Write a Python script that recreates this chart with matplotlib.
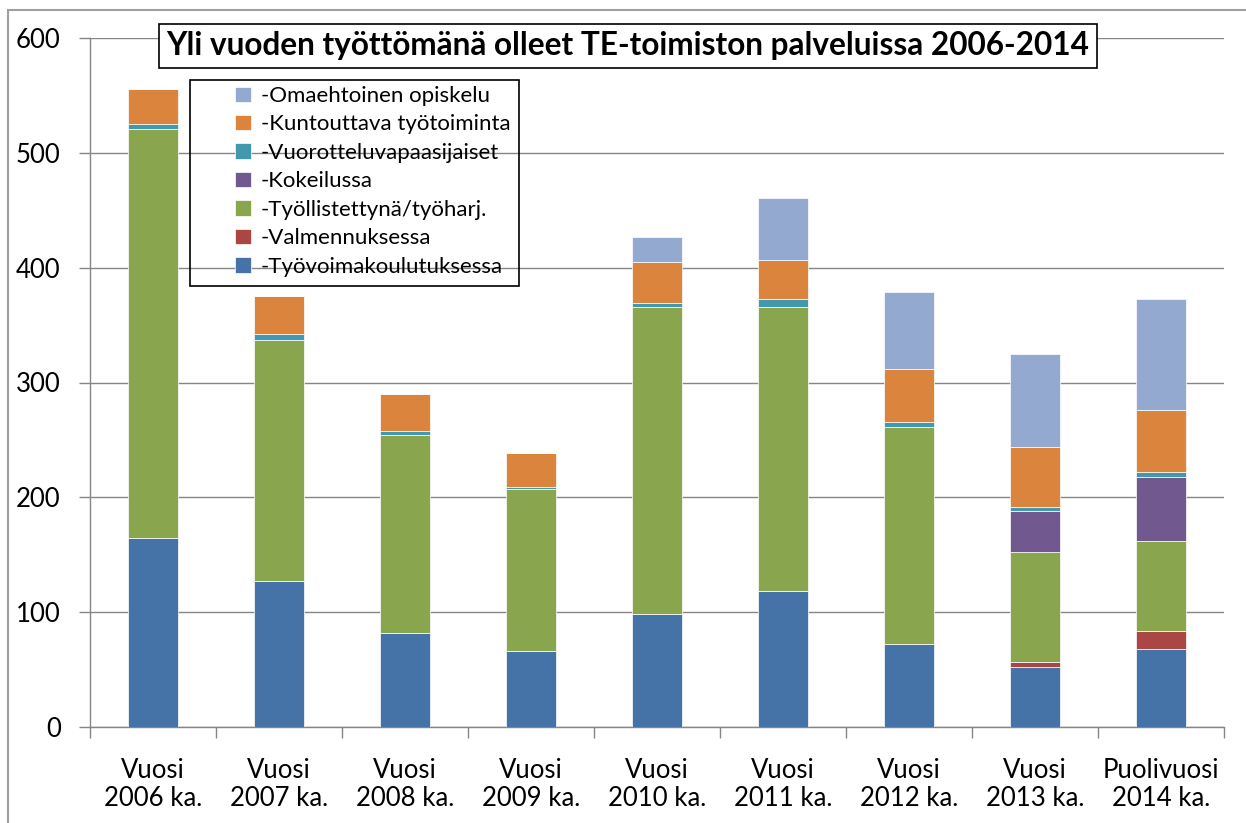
import matplotlib.pyplot as plt
from matplotlib.patches import Rectangle
import numpy as np

categories = ["Vuosi\n2006 ka.", "Vuosi\n2007 ka.", "Vuosi\n2008 ka.", "Vuosi\n2009 ka.",
              "Vuosi\n2010 ka.", "Vuosi\n2011 ka.", "Vuosi\n2012 ka.", "Vuosi\n2013 ka.",
              "Puolivuosi\n2014 ka."]

# stacked from the bottom up
tyovoimakoulutus = [165, 127, 82, 66, 98, 118, 72, 52, 68]
valmennus = [0, 0, 0, 0, 0, 0, 0, 5, 16]
tyollistetty = [356, 210, 172, 141, 268, 248, 189, 95, 78]
kokeilu = [0, 0, 0, 0, 0, 0, 0, 36, 56]
vuorottelu = [4, 5, 4, 2, 3, 7, 5, 4, 4]
kuntouttava = [31, 33, 32, 30, 36, 34, 46, 52, 54]
omaehtoinen = [0, 0, 0, 0, 22, 54, 67, 81, 97]

labels = ["-Työvoimakoulutuksessa", "-Valmennuksessa", "-Työllistettynä/työharj.",
          "-Kokeilussa", "-Vuorotteluvapaasijaiset", "-Kuntouttava työtoiminta",
          "-Omaehtoinen opiskelu"]
colors = ["#4572A7", "#AA4643", "#89A54E", "#71588F", "#4198AF", "#DB843D", "#93A9CF"]
series = [tyovoimakoulutus, valmennus, tyollistetty, kokeilu, vuorottelu, kuntouttava, omaehtoinen]

plt.rcParams['font.family'] = ['Lato', 'DejaVu Sans']

W, H = 1246, 823
fig = plt.figure(figsize=(W / 100, H / 100), dpi=100)
ax = fig.add_axes([90 / W, 1 - 727 / H, (1224 - 90) / W, (727 - 38) / H])

x = np.arange(len(categories))
bottom = np.zeros(len(categories))
for vals, col, lab in zip(series, colors, labels):
    ax.bar(x, vals, 0.4, bottom=bottom, color=col, edgecolor='white',
           linewidth=0.5, label=lab, zorder=3)
    bottom += np.array(vals)

ax.set_xlim(-0.5, len(categories) - 0.5)
ax.set_ylim(0, 600)
ax.set_yticks(range(0, 601, 100))
ax.yaxis.grid(True, color='#868686', linewidth=1)
ax.set_axisbelow(True)
for s in ['top', 'right']:
    ax.spines[s].set_visible(False)
for s in ['left', 'bottom']:
    ax.spines[s].set_color('#868686')
    ax.spines[s].set_linewidth(1)

ax.set_xticks(x)
ax.set_xticklabels(categories, fontsize=18.5, linespacing=1.18)
ax.tick_params(axis='x', which='major', length=0, pad=22)
ax.set_xticks(np.arange(-0.5, len(categories), 1), minor=True)
ax.tick_params(axis='x', which='minor', length=8, color='#868686', width=1)
ax.tick_params(axis='y', length=8, color='#868686', width=1, pad=13, labelsize=18.5)

# legend, reversed order, frame drawn separately
h, l = ax.get_legend_handles_labels()
fig.legend(h[::-1], l[::-1], loc='upper left', bbox_to_anchor=(235 / W, 1 - 86 / H),
           frameon=False, fontsize=16, borderpad=0, borderaxespad=0,
           handlelength=0.72, handleheight=0.68, handletextpad=0.45, labelspacing=0.38)
fig.add_artist(Rectangle((190 / W, 1 - 286 / H), (519 - 190) / W, (286 - 80) / H,
                         transform=fig.transFigure, fill=False, ec='black', lw=1.2))

fig.text(628 / W, 1 - 46 / H, "Yli vuoden työttömänä olleet TE-toimiston palveluissa 2006-2014",
         ha='center', va='center', fontsize=22.7, fontweight='bold',
         bbox=dict(boxstyle='square,pad=0.25', fc='white', ec='black', lw=1.2))

# outer chart border
fig.add_artist(Rectangle((8 / W, -0.05), 1.2, 1 - 10 / H + 0.05, transform=fig.transFigure,
                         fill=False, ec='#a0a0a0', lw=1.5))

fig.savefig("out.png", dpi=100)
